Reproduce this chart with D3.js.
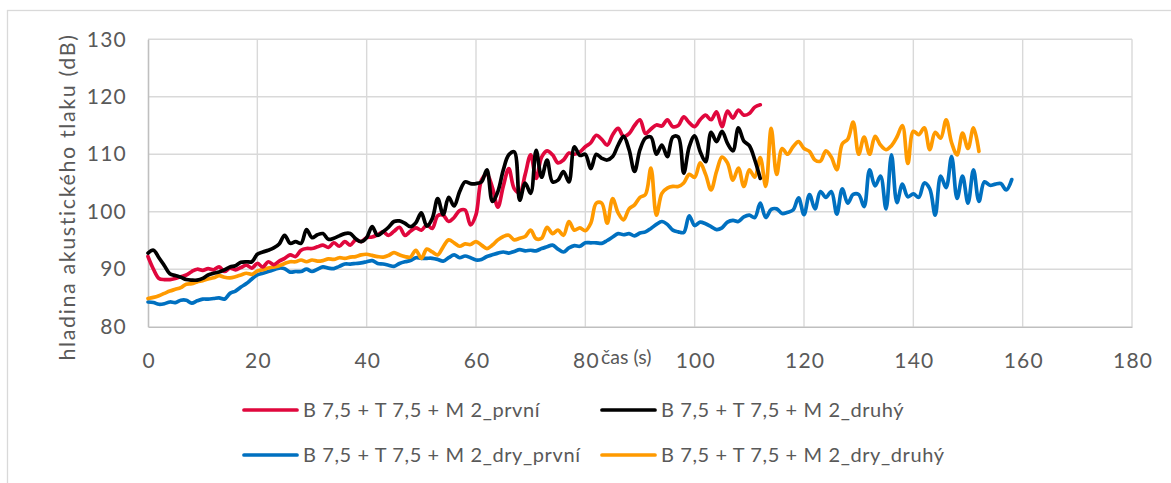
<!DOCTYPE html>
<html>
<head>
<meta charset="utf-8">
<script src="https://cdn.jsdelivr.net/npm/d3@7"></script>
<style>
  html, body { margin: 0; padding: 0; background: #fff; }
  svg { display: block; font-family: Lato, "Open Sans", sans-serif; }
</style>
</head>
<body>
<svg id="chart" width="1171" height="483"></svg>
<script>
// Sound pressure level (dB) sampled once per second for each test run
const seriesNames = [
  "B 7,5 + T 7,5 + M 2_první",
  "B 7,5 + T 7,5 + M 2_druhý",
  "B 7,5 + T 7,5 + M 2_dry_první",
  "B 7,5 + T 7,5 + M 2_dry_druhý"
];

const prvni = [
  92.2, 90.0, 88.4, 88.2, 88.2, 88.4, 88.7, 89.0, 89.6, 90.0,
  89.8, 90.1, 89.9, 90.4, 89.6, 90.2, 89.9, 90.3, 90.7, 90.2,
  91.0, 90.4, 91.3, 90.8, 91.4, 91.9, 92.5, 92.2, 93.3, 93.6,
  93.6, 93.9, 94.2, 93.8, 94.6, 94.0, 94.8, 94.2, 95.1, 94.8,
  95.5, 95.6, 96.0, 96.5, 95.9, 96.6, 97.3, 95.9, 96.6, 97.2,
  96.8, 97.7, 97.1, 99.3, 99.4, 98.3, 99.0, 100.2, 100.3, 97.7,
  99.5, 105.5, 106.5, 104.2, 100.8, 104.5, 107.5, 104.0, 103.3, 106.5,
  109.9, 105.8, 109.5, 110.6, 109.9, 108.5, 109.0, 110.2, 110.0, 110.4,
  111.3, 112.0, 113.3, 112.6, 111.6, 113.4, 114.5, 113.1, 113.6, 115.0,
  116.0, 113.6, 114.4, 115.1, 114.9, 116.0, 114.8, 115.0, 116.5, 115.5,
  114.8, 116.0, 116.8, 116.0, 117.4, 114.8, 117.5, 116.3, 117.7, 116.8,
  117.1, 118.2, 118.6
];

const druhy = [
  92.8, 93.3, 92.0, 90.6, 89.2, 88.9, 88.6, 88.2, 88.1, 88.1,
  88.4, 89.0, 89.3, 89.5, 89.9, 90.4, 90.6, 91.2, 91.3, 91.3,
  92.6, 93.0, 93.3, 93.7, 94.4, 95.9, 94.5, 94.8, 94.5, 96.9,
  95.5, 96.0, 96.2, 95.2, 95.4, 95.8, 96.2, 96.2, 95.3, 94.8,
  95.5, 97.4, 95.9, 96.5, 97.3, 98.3, 98.4, 98.0, 97.4, 98.1,
  99.8, 97.5, 98.8, 102.3, 99.5, 102.5, 101.0, 103.5, 105.2, 104.9,
  104.9, 105.2, 107.3, 101.8, 103.5, 107.3, 109.9, 110.4, 102.0, 105.0,
  103.2, 110.7, 106.0, 109.0, 105.2, 105.5, 107.0, 105.2, 111.3, 109.8,
  110.0, 107.5, 110.0, 109.3, 109.0, 109.6, 111.6, 113.1, 110.8, 107.0,
  110.8, 112.8, 113.0, 110.0, 111.6, 109.6, 113.0, 113.0, 106.7, 111.3,
  113.2, 110.5, 108.7, 113.8, 112.2, 114.0, 111.9, 110.6, 114.6, 112.3,
  111.5, 109.0, 105.8
];

const dryPrvni = [
  84.3, 84.2, 83.9, 84.0, 84.3, 84.2, 84.6, 84.6, 84.1, 84.5,
  84.8, 84.8, 84.9, 85.0, 84.8, 85.8, 86.2, 86.9, 87.5, 88.3,
  89.0, 89.3, 89.6, 89.9, 90.2, 90.1, 89.5, 89.6, 89.6, 90.0,
  89.6, 90.0, 90.4, 90.2, 90.1, 90.5, 90.9, 90.9, 91.0, 91.1,
  91.3, 91.5, 91.0, 90.9, 90.7, 90.5, 91.0, 91.3, 91.5, 92.0,
  91.9, 91.9, 91.9, 91.7, 91.4, 92.0, 92.5, 92.0, 92.3, 92.0,
  91.6, 91.7, 92.2, 92.5, 92.8, 93.0, 92.8, 93.1, 93.4, 93.2,
  93.3, 93.2, 93.6, 93.9, 94.2, 93.5, 93.0, 93.7, 94.1, 94.0,
  94.6, 94.6, 94.6, 94.5, 95.0, 95.6, 96.2, 96.0, 96.2, 95.8,
  96.3, 96.5, 97.1, 97.8, 98.3, 97.8, 96.8, 96.5, 96.4, 99.3,
  97.6, 98.2, 97.9, 97.4, 96.9, 97.2, 98.2, 98.5, 98.3, 99.1,
  99.4, 99.0, 101.5, 99.0, 100.4, 100.5, 99.7, 99.9, 100.3, 102.4,
  99.5, 103.0, 100.5, 103.5, 102.5, 103.5, 99.6, 104.0, 101.5, 103.0,
  103.0, 100.9, 107.3, 104.5, 106.2, 100.5, 109.9, 101.6, 104.8, 102.6,
  103.1, 102.5, 105.0, 104.0, 99.4, 106.2, 104.2, 109.6, 102.3, 106.2,
  101.5, 107.3, 101.8, 105.2, 104.6, 104.8, 104.9, 103.8, 105.6
];

const dryDruhy = [
  84.9, 85.1, 85.4, 85.8, 86.2, 86.5, 86.8, 87.4, 87.5, 87.8,
  88.0, 88.3, 88.5, 88.9, 88.6, 88.5, 88.7, 89.0, 89.3, 89.1,
  89.7, 89.9, 90.2, 90.4, 90.6, 91.0, 91.3, 91.3, 91.6, 91.3,
  91.6, 91.4, 91.5, 91.8, 91.7, 92.0, 91.9, 92.1, 92.2, 92.5,
  92.6, 92.4, 92.2, 92.1, 92.4, 92.9, 92.5, 92.2, 92.1, 93.3,
  91.9, 93.5, 93.0, 92.5, 93.9, 95.1, 94.6, 94.0, 94.4, 94.3,
  94.8, 94.2, 93.6, 94.2, 95.1, 95.7, 95.9, 95.1, 95.4, 95.7,
  96.8, 95.3, 95.4, 97.3, 96.2, 96.8, 95.9, 98.3, 96.8, 97.2,
  96.7, 98.0, 101.5, 101.5, 98.0, 102.3, 99.8, 98.6, 100.5, 101.2,
  102.5, 103.0, 107.6, 99.4, 103.2, 104.1, 104.4, 104.4, 105.0, 106.5,
  106.0, 108.5, 106.5, 103.8, 107.0, 109.5, 108.5, 105.5, 107.6, 104.4,
  107.3, 106.0, 109.4, 104.4, 114.5, 106.5, 111.0, 110.0, 111.3, 112.2,
  111.0, 110.5, 109.0, 108.8, 110.6, 109.5, 107.3, 111.8, 112.6, 115.6,
  110.0, 113.0, 110.0, 113.1, 111.6, 110.8, 111.5, 113.0, 115.0, 108.4,
  114.0, 113.4, 114.6, 110.8, 113.8, 112.8, 116.0, 112.0, 109.9, 113.7,
  111.0, 114.6, 110.5
];

const xTicks = [0, 20, 40, 60, 80, 100, 120, 140, 160, 180];
const yTicks = [80, 90, 100, 110, 120, 130];
const seriesColors = ["#e0073d", "#000000", "#0070c0", "#ff9a00"];

const svg = d3.select("#chart");
const plot = { left: 148, right: 1132, top: 39.3, bottom: 326.7 };

const x = d3.scaleLinear().domain([0, 180]).range([plot.left, plot.right]);
const y = d3.scaleLinear().domain([80, 130]).range([plot.bottom, plot.top]);

// outer chart frame
svg.append("rect")
  .attr("x", 7.5).attr("y", 10.5)
  .attr("width", 1200).attr("height", 500)
  .attr("fill", "#fff").attr("stroke", "#d9d9d9").attr("stroke-width", 1.3);

// gridlines
const grid = svg.append("g");
grid.selectAll(".gx").data(xTicks.slice(1)).join("line")
  .attr("x1", d => x(d)).attr("x2", d => x(d))
  .attr("y1", plot.top).attr("y2", plot.bottom)
  .attr("stroke", "#d9d9d9").attr("stroke-width", 1.4);
grid.selectAll(".gy").data(yTicks.slice(1)).join("line")
  .attr("x1", plot.left).attr("x2", plot.right)
  .attr("y1", d => y(d)).attr("y2", d => y(d))
  .attr("stroke", "#d9d9d9").attr("stroke-width", 1.4);

// axes
const xAxis = svg.append("g")
  .attr("transform", `translate(0,${plot.bottom})`)
  .call(d3.axisBottom(x).tickValues(xTicks).tickSize(0).tickPadding(26));
const yAxis = svg.append("g")
  .attr("transform", `translate(${plot.left},0)`)
  .call(d3.axisLeft(y).tickValues(yTicks).tickSize(0).tickPadding(21));
[xAxis, yAxis].forEach(a => {
  a.select(".domain").attr("stroke", "#bfbfbf").attr("stroke-width", 1.6);
  a.selectAll("text").attr("fill", "#595959").attr("font-size", 21)
    .attr("letter-spacing", 1.2)
    .attr("font-family", "Lato, sans-serif");
});
xAxis.selectAll("text").attr("dx", 0.6);

// axis titles
svg.append("text")
  .attr("transform", "translate(75,197) rotate(-90)")
  .attr("text-anchor", "middle")
  .attr("fill", "#595959").attr("font-size", 21.5)
  .attr("letter-spacing", 1.6)
  .text("hladina akustického tlaku (dB)");
svg.append("text")
  .attr("x", 601).attr("y", 364)
  .attr("text-anchor", "start")
  .attr("fill", "#595959").attr("font-size", 19.5)
  .text("čas (s)");

// series lines
const allSeries = [prvni, druhy, dryPrvni, dryDruhy];
const line = d3.line()
  .x((d, i) => x(i))
  .y(d => y(d))
  .curve(d3.curveCatmullRom.alpha(0.5));
// draw order: dry runs first, then the first-run pair on top
[2, 3, 0, 1].forEach(k => {
  svg.append("path")
    .datum(allSeries[k])
    .attr("d", line)
    .attr("fill", "none")
    .attr("stroke", seriesColors[k])
    .attr("stroke-width", 3.7)
    .attr("stroke-linejoin", "round")
    .attr("stroke-linecap", "round");
});

// legend, two rows of two
const legendPos = [[244, 410], [602, 410], [244, 455], [602, 455]];
seriesNames.forEach((name, k) => {
  const [lx, ly] = legendPos[k];
  const g = svg.append("g").attr("transform", `translate(${lx},${ly})`);
  g.append("line").attr("x1", 0).attr("x2", 53).attr("y1", 0).attr("y2", 0)
    .attr("stroke", seriesColors[k]).attr("stroke-width", 3.7)
    .attr("stroke-linecap", "round");
  g.append("text").attr("x", 59).attr("y", 7)
    .attr("fill", "#595959").attr("font-size", 20)
    .attr("letter-spacing", 0.6)
    .text(name);
});
</script>
</body>
</html>
